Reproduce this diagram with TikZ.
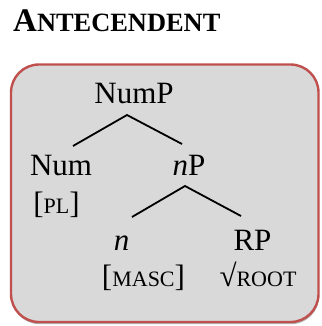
\documentclass[tikz,border=0pt]{standalone}
\usepackage{fontspec}
\setmainfont{Liberation Serif}
\usetikzlibrary{shadows}
\definecolor{boxred}{RGB}{192,80,77}
\definecolor{boxgray}{RGB}{217,217,217}
\newcommand\smallcaps[1]{{\fontsize{22}{22}\selectfont #1}}
\tikzset{
  lbl/.style={anchor=base, inner sep=0pt, font=\fontsize{31}{31}\selectfont},
  branch/.style={line width=1.8pt, black},
  panel/.style={draw=boxred, line width=2.4pt, fill=boxgray, rounded corners=28pt,
    drop shadow={shadow xshift=0.6pt, shadow yshift=-2.2pt, opacity=0.3, fill=black}}
}
\begin{document}
\begin{tikzpicture}
\useasboundingbox (0,0) rectangle (321pt,-326pt);
% heading
\node[anchor=base west, inner sep=0pt, font=\bfseries] (title) at (13pt,-32pt)
  {{\fontsize{33}{33}\selectfont A}{\fontsize{26.4}{26.4}\selectfont NTECENDENT}};
% panel
\path[panel] (11pt,-64.5pt) rectangle (318.5pt,-322pt);
% tree labels
\node[lbl] (nump) at (134pt,-103pt) {NumP};
\node[lbl] (num)  at (61pt,-175pt) {Num};
\node[lbl] (np)   at (189pt,-175pt) {\textit{n}P};
\node[lbl] (pl)   at (56.5pt,-213pt) {[\smallcaps{PL}]};
\node[lbl] (n)    at (121.5pt,-250pt) {\textit{n}};
\node[lbl] (rp)   at (252.5pt,-250pt) {RP};
\node[lbl] (masc) at (143.5pt,-286pt) {[\smallcaps{MASC}]};
\node[lbl] (root) at (258pt,-286pt) {√\smallcaps{ROOT}};
% branch points
\coordinate (numpTop) at (127pt,-115pt);
\coordinate (numTop)  at (73pt,-146pt);
\coordinate (npTop)   at (182pt,-144pt);
\coordinate (npFork)  at (185pt,-186pt);
\coordinate (nTop)    at (132pt,-217pt);
\coordinate (rpTop)   at (241pt,-216pt);
\draw[branch] (numTop) -- (numpTop) -- (npTop);
\draw[branch] (nTop) -- (npFork) -- (rpTop);
\end{tikzpicture}
\end{document}
